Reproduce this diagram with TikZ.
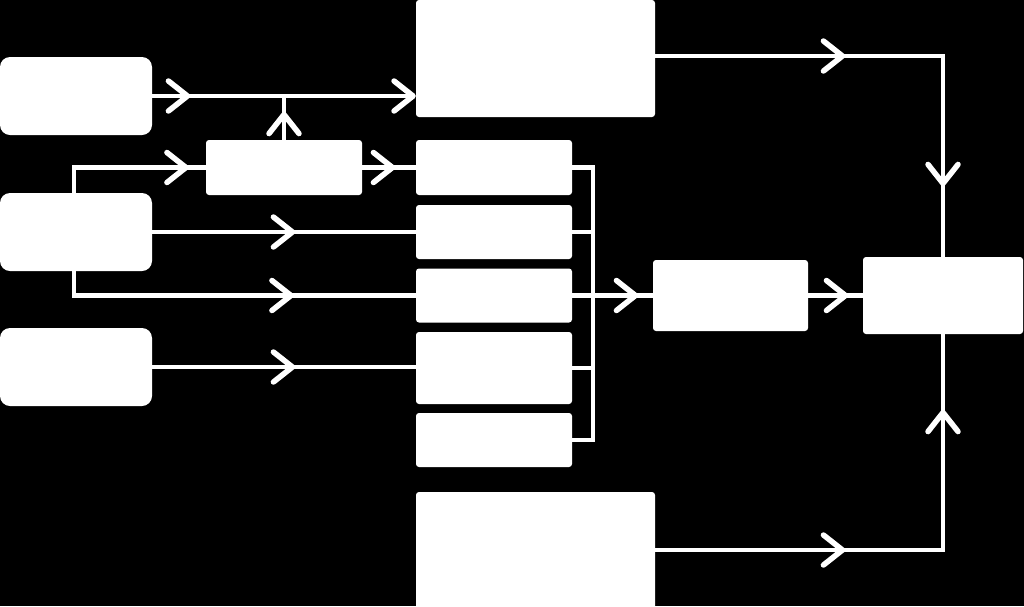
\documentclass[tikz,border=0pt]{standalone}
\usetikzlibrary{arrows.meta,decorations.markings}
\tikzset{
  box/.style={fill=white,draw=none,inner sep=0pt,rounded corners=3pt},
  rbox/.style={box,rounded corners=10pt},
  ln/.style={draw=white,line width=4.5pt},
  chev/.style={postaction={decorate,decoration={markings,mark=at position #1 with {\arrow{Straight Barb[length=19pt,width=30pt,line width=5.5pt,round,white]}}}}},
  endchev/.style={-{Straight Barb[length=19pt,width=30pt,line width=5.5pt,round,white]}}
}
\begin{document}
\begin{tikzpicture}[x=1pt,y=-1pt]
\fill[black] (0,0) rectangle (1024,606);
\useasboundingbox (0,0) rectangle (1024,606);
% nodes
\node[rbox,minimum width=152pt,minimum height=78pt] (a1) at (76,96) {};
\node[rbox,minimum width=152pt,minimum height=78pt] (a2) at (76,232) {};
\node[rbox,minimum width=152pt,minimum height=78pt] (a3) at (76,367) {};
\node[box,minimum width=156pt,minimum height=55pt] (s) at (284,167.5) {};
\node[box,minimum width=239pt,minimum height=117pt] (b) at (535.5,58.5) {};
\node[box,minimum width=156pt,minimum height=55pt] (m1) at (494,167.5) {};
\node[box,minimum width=156pt,minimum height=54pt] (m2) at (494,232) {};
\node[box,minimum width=156pt,minimum height=54pt] (m3) at (494,295.5) {};
\node[box,minimum width=156pt,minimum height=72pt] (m4) at (494,368) {};
\node[box,minimum width=156pt,minimum height=54pt] (m5) at (494,440) {};
\node[box,minimum width=155pt,minimum height=71pt] (c) at (730.5,295.5) {};
\node[box,minimum width=160pt,minimum height=77pt] (d) at (943,295.5) {};
\node[box,minimum width=239pt,minimum height=118pt] (e) at (535.5,551) {};
\coordinate (bb) at (593,440);
% connectors
\draw[ln,chev=38pt,endchev] (a1.east) -- (a1.east -| b.west);
\draw[ln,chev=28pt] (s.north) -- (s.north |- a1.east);
\draw[ln,chev=140pt] ([xshift=-2pt]a2.north) |- (s.west);
\draw[ln,chev=33pt] (s.east) -- (m1.west);
\draw[ln,chev=143pt] (a2.east) -- (m2.west);
\draw[ln,chev=244pt] ([xshift=-2pt]a2.south) |- (m3.west);
\draw[ln,chev=143pt] (a3.east) -- (a3.east -| m4.west);
\draw[ln] (m1.east) -| (bb) -- (m5.east);
\draw[ln] (m2.east) -- (m2.east -| bb);
\draw[ln] (m4.east) -- (m4.east -| bb);
\draw[ln,chev=66pt] (m3.east) -- (c.west);
\draw[ln,chev=40pt] (c.east) -- (d.west);
\draw[ln,chev=190pt,chev=418pt] ([yshift=2.5pt]b.east) -| (d.north);
\draw[ln,chev=190pt,chev=428pt] ([yshift=1pt]e.east) -| (d.south);
\end{tikzpicture}
\end{document}
